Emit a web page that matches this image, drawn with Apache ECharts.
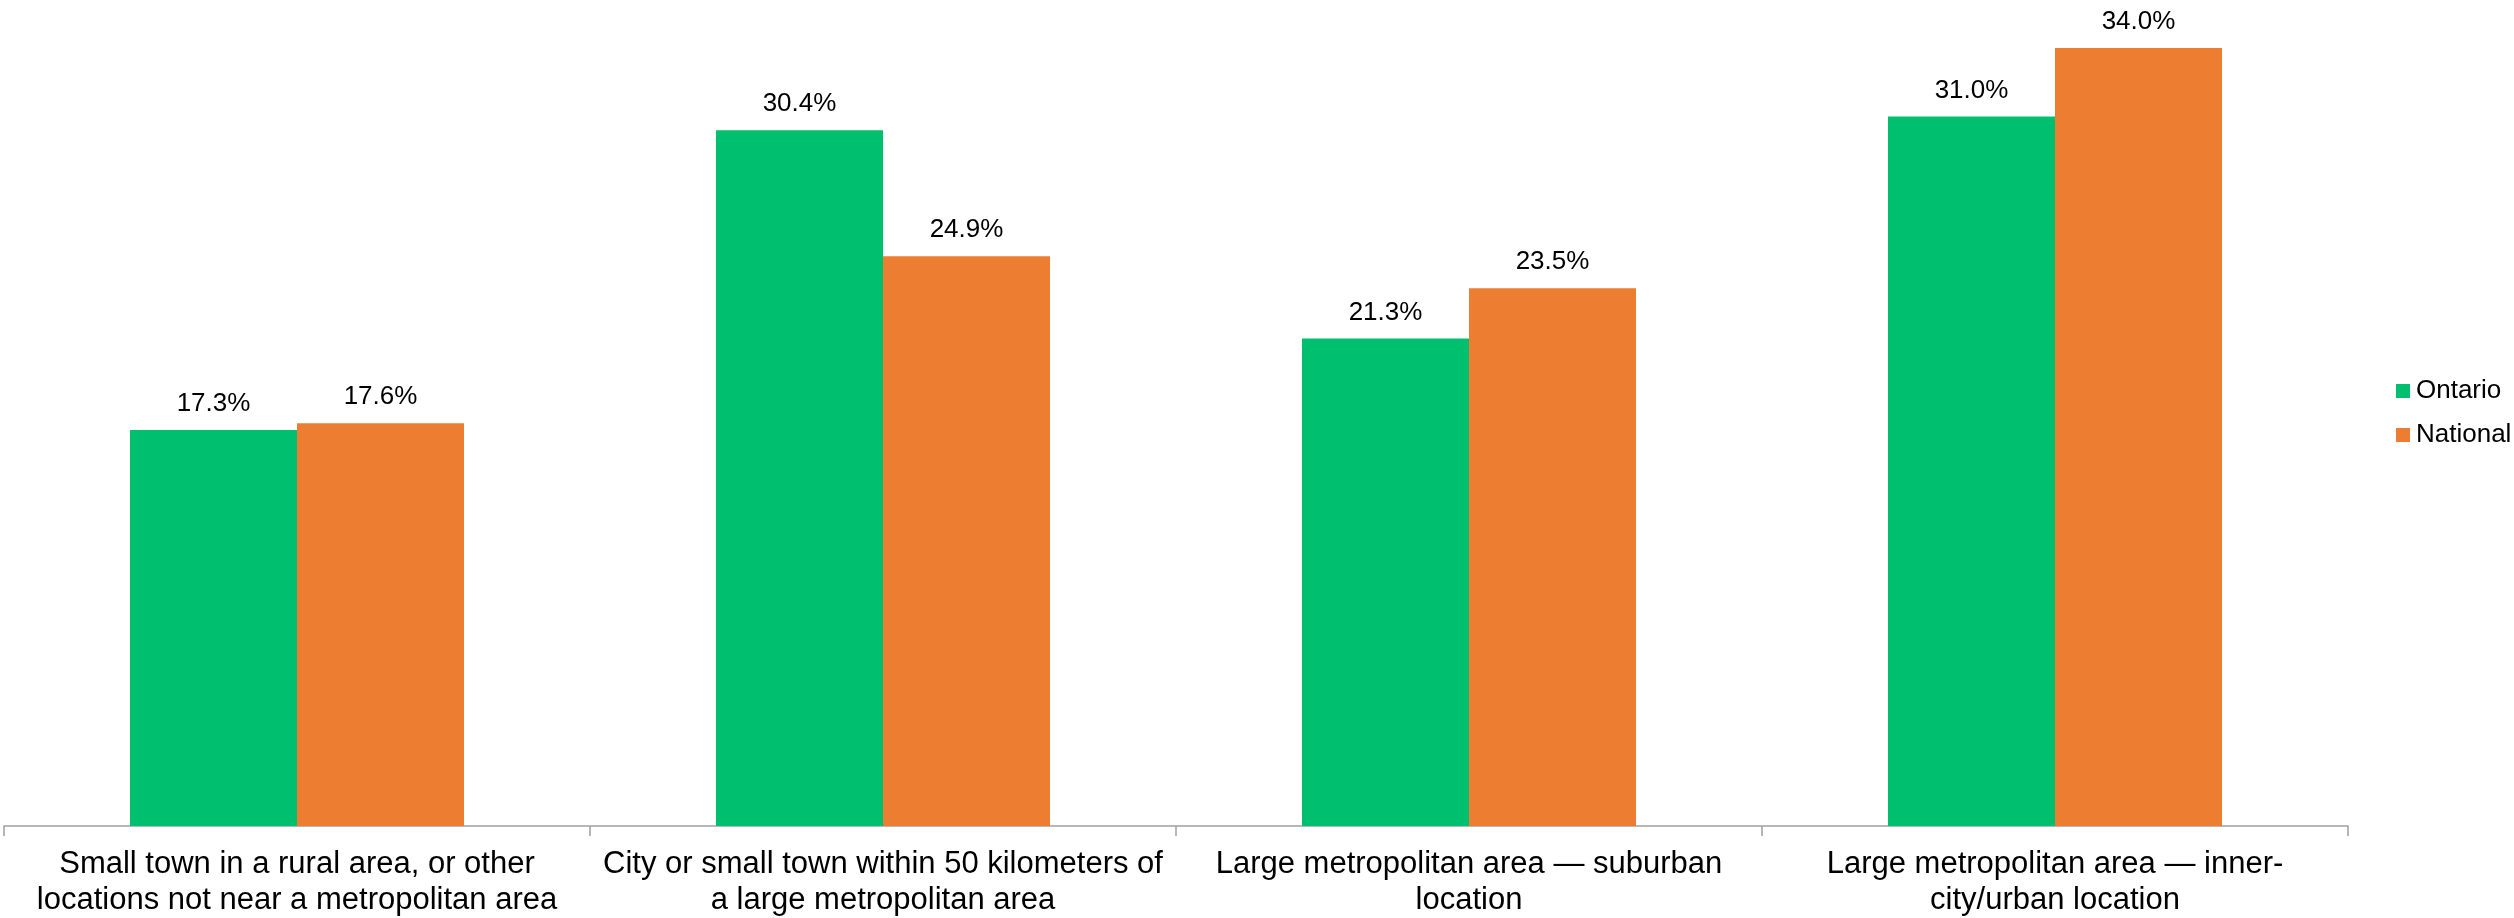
<!DOCTYPE html>
<html>
<head>
<meta charset="utf-8">
<script src="https://cdn.jsdelivr.net/npm/echarts@6/dist/echarts.min.js"></script>
<style>html,body{margin:0;padding:0;background:#fff;}#c{width:2514px;height:918px;}</style>
</head>
<body>
<div id="c"></div>
<script>
const categories = [
  "Small town in a rural area, or other\nlocations not near a metropolitan area",
  "City or small town within 50 kilometers of\na large metropolitan area",
  "Large metropolitan area \u2014 suburban\nlocation",
  "Large metropolitan area \u2014 inner-\ncity/urban location"
];
const seriesNames = ["Ontario", "National"];
const ontario = [17.3, 30.4, 21.3, 31.0];
const national = [17.6, 24.9, 23.5, 34.0];

const FONT = "'Liberation Sans', Arial, sans-serif";
const chart = echarts.init(document.getElementById('c'), null, {renderer: 'canvas'});
const labelCfg = {
  show: true,
  position: 'top',
  distance: 13,
  fontFamily: FONT,
  fontSize: 26,
  color: '#000',
  formatter: p => p.value.toFixed(1) + '%'
};
chart.setOption({
  animation: false,
  backgroundColor: '#fff',
  textStyle: {fontFamily: FONT},
  grid: {left: 4, right: 166, top: 25, bottom: 92, containLabel: false},
  legend: {
    orient: 'vertical',
    left: 2391,
    top: 373,
    itemWidth: 14,
    itemHeight: 14,
    itemGap: 18,
    icon: 'rect',
    textStyle: {fontFamily: FONT, fontSize: 26, color: '#000', lineHeight: 26, padding: [0, 0, 0, 1]},
    data: seriesNames
  },
  xAxis: {
    type: 'category',
    data: categories,
    axisLine: {show: true, lineStyle: {color: '#a0a0a0', width: 1.5}},
    axisTick: {show: true, length: 10, lineStyle: {color: '#a0a0a0', width: 1.5}},
    axisLabel: {interval: 0, fontFamily: FONT, fontSize: 31, lineHeight: 36, color: '#000', margin: 20, align: 'center'}
  },
  yAxis: {
    type: 'value', min: 0, max: 35, show: false,
    splitLine: {show: false}
  },
  series: [
    {name: seriesNames[0], type: 'bar', data: ontario, barGap: '0%', barCategoryGap: '43%',
     itemStyle: {color: '#00BF6F'}, label: labelCfg},
    {name: seriesNames[1], type: 'bar', data: national, barGap: '0%', barCategoryGap: '43%',
     itemStyle: {color: '#ED7D31'}, label: labelCfg}
  ]
});
</script>
</body>
</html>
